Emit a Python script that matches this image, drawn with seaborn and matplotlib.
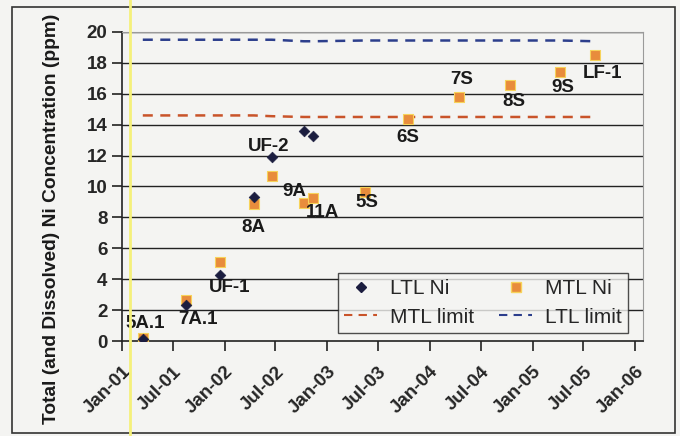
import matplotlib
matplotlib.use("Agg")
import matplotlib.pyplot as plt
import matplotlib.dates as mdates
from matplotlib.lines import Line2D
from matplotlib.patches import Rectangle
import numpy as np
import pandas as pd
import seaborn as sns

# Data
samples = ["5A.1", "7A.1", "UF-1", "8A", "UF-2", "9A", "11A",
           "5S", "6S", "7S", "8S", "9S", "LF-1"]
dates = ["2001-03-16", "2001-08-16", "2001-12-15", "2002-04-15", "2002-06-18",
         "2002-10-10", "2002-11-11", "2003-05-15", "2003-10-15", "2004-04-14",
         "2004-10-12", "2005-04-09", "2005-08-11"]
ltl_ni = [0.1, 2.3, 4.3, 9.3, 11.9, 13.6, 13.3,
          np.nan, np.nan, np.nan, np.nan, np.nan, np.nan]
mtl_ni = [0.2, 2.65, 5.1, 8.85, 10.7, 8.9, 9.25, 9.65, 14.35, 15.8, 16.55, 17.4, 18.5]
mtl_limit = [14.6, 14.6, 14.6, 14.6, 14.55, 14.5, 14.5, 14.5, 14.5, 14.5, 14.5, 14.5, 14.5]
ltl_limit = [19.5, 19.5, 19.5, 19.5, 19.5, 19.4, 19.4, 19.45, 19.45, 19.45, 19.45, 19.45, 19.4]

# label offsets in pixels (dx, dy) relative to the MTL point
label_offsets = [(2, 14), (12, -19), (10, -25), (0, -23), (-3, 29), (-10, 12), (10, -14),
                 (2, -11), (0, -18), (3, 17), (4, -16), (3, -15), (8, -18)]

df = pd.DataFrame({"date": pd.to_datetime(dates), "sample": samples,
                   "LTL Ni": ltl_ni, "MTL Ni": mtl_ni,
                   "MTL limit": mtl_limit, "LTL limit": ltl_limit})

bg = "#f4f4f2"
sns.set_style("white")
plt.rcParams["font.family"] = ["Liberation Sans", "DejaVu Sans"]

fig = plt.figure(figsize=(6.8, 4.36), dpi=100, facecolor=bg)
ax = fig.add_axes([122/680, 1-341/436, 521/680, 309/436])
ax.set_facecolor(bg)

for v in range(2, 21, 2):
    ax.axhline(v, color="#222222", lw=1.0, zorder=1)

sns.lineplot(data=df, x="date", y="MTL limit", ax=ax, color="#c9542a", lw=1.8,
             linestyle=(0, (4, 3)), zorder=2)
sns.lineplot(data=df, x="date", y="LTL limit", ax=ax, color="#2c3e8c", lw=1.8,
             linestyle=(0, (4, 3)), zorder=2)
sns.scatterplot(data=df, x="date", y="LTL Ni", ax=ax, marker="D", s=30,
                color="#1b1d3f", edgecolor="#1b1d3f", zorder=4)
sns.scatterplot(data=df, x="date", y="MTL Ni", ax=ax, marker="s", s=45,
                color="#e88c3c", edgecolor="#f7d35a", linewidth=0.8, zorder=3)

for name, d, yv, (dx, dy) in zip(df["sample"], df["date"], df["MTL Ni"], label_offsets):
    ax.annotate(name, (d, yv), xytext=(dx, dy), textcoords="offset pixels",
                ha="center", va="center", fontsize=13.5, fontweight="bold",
                color="#1a1a1a", zorder=5)

ax.set_xlim(pd.Timestamp("2001-01-01"), pd.Timestamp("2006-01-29"))
ax.set_ylim(0, 20)
ax.set_yticks(range(0, 21, 2))
ticks = pd.date_range("2001-01-01", "2006-01-01", freq="6MS")
ax.set_xticks(ticks)
ax.xaxis.set_major_formatter(mdates.DateFormatter("%b-%y"))
ax.tick_params(axis="both", labelsize=13.5, length=7, width=1.2, color="#222222",
               direction="out", bottom=True, left=True)
ax.tick_params(axis="x", pad=9)
for lab in ax.get_xticklabels():
    lab.set_rotation(45)
    lab.set_ha("right")
    lab.set_rotation_mode("anchor")
for lab in ax.get_xticklabels() + ax.get_yticklabels():
    lab.set_fontweight("bold")
ax.set_xlabel("")
ax.set_ylabel("")
fig.text(52/680, 1 - 219/436, "Total (and Dissolved) Ni Concentration (ppm)",
         rotation=90, ha="center", va="center", fontsize=13.8, fontweight="bold",
         color="#1a1a1a")

for side in ["top", "right"]:
    ax.spines[side].set_color("#9a9a9a")
    ax.spines[side].set_linewidth(0.8)
for side in ["left", "bottom"]:
    ax.spines[side].set_color("#222222")
    ax.spines[side].set_linewidth(1.2)

h_ltl = Line2D([], [], marker="D", ls="", color="#1b1d3f", ms=5)
h_mtl = Line2D([], [], marker="s", ls="", color="#e88c3c", mec="#f7d35a", ms=7)
h_mlim = Line2D([], [], color="#c9542a", lw=1.5, ls=(0, (4, 3)))
h_llim = Line2D([], [], color="#2c3e8c", lw=1.5, ls=(0, (4, 3)))
leg = ax.legend([h_ltl, h_mlim, h_mtl, h_llim],
                ["LTL Ni", "MTL limit", "MTL Ni", "LTL limit"], ncol=2,
                loc="lower right", bbox_to_anchor=(0.971, 0.026), borderaxespad=0,
                fontsize=15, frameon=True, fancybox=False, borderpad=0.3,
                handlelength=1.6, columnspacing=1.2, labelspacing=0.45,
                handletextpad=0.6)
leg.get_frame().set_edgecolor("#222222")
leg.get_frame().set_facecolor(bg)
leg.get_frame().set_linewidth(1.0)
leg.set_zorder(6)

# outer chart frame and the yellow scan streak
fig.add_artist(Rectangle((12/680, 3/436), 663/680, 426/436,
                         transform=fig.transFigure, fill=False,
                         edgecolor="#333333", lw=1.2))
fig.add_artist(Line2D([130/680, 130/680], [0, 1], transform=fig.transFigure,
                      color="#f5f07a", lw=2))

fig.savefig("out.png", dpi=100, facecolor=bg)
